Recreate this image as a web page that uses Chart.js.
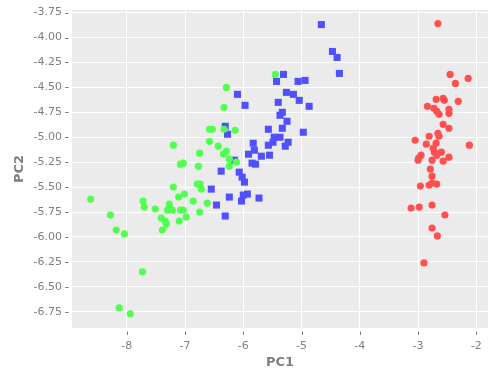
<!DOCTYPE html>
<html>
<head>
<meta charset="utf-8">
<script src="https://cdn.jsdelivr.net/npm/chart.js@4/dist/chart.umd.min.js"></script>
<style>
  html, body { margin: 0; padding: 0; background: #fff; }
  #wrap { width: 500px; height: 378px; }
</style>
</head>
<body>
<div id="wrap"><canvas id="pca"></canvas></div>
<script>
// axis ticks
const xTicks = [-8, -7, -6, -5, -4, -3, -2];
const yTicks = [-3.75, -4, -4.25, -4.5, -4.75, -5, -5.25, -5.5, -5.75, -6, -6.25, -6.5, -6.75];

// red group (right cluster)
const redPC1 = [-2.66, -2.45, -2.14, -2.36, -2.69, -2.57, -2.55, -2.31, -2.84, -2.73,
  -2.68, -2.64, -2.47, -2.47, -2.57, -2.47, -2.66, -2.81, -2.64, -3.05,
  -2.12, -2.86, -2.69, -2.74, -2.72, -2.60, -2.95, -2.99, -3.00, -2.47,
  -2.68, -2.76, -2.57, -2.79, -2.76, -2.96, -2.81, -2.76, -2.68, -3.12,
  -2.98, -2.76, -2.54, -2.76, -2.67, -2.90];
const redPC2 = [-3.86, -4.37, -4.41, -4.46, -4.62, -4.61, -4.63, -4.64, -4.69, -4.71,
  -4.74, -4.77, -4.72, -4.76, -4.87, -4.91, -4.96, -4.99, -4.99, -5.03,
  -5.08, -5.07, -5.06, -5.11, -5.15, -5.15, -5.18, -5.21, -5.23, -5.20,
  -5.18, -5.23, -5.24, -5.32, -5.39, -5.49, -5.48, -5.46, -5.47, -5.71,
  -5.70, -5.68, -5.78, -5.91, -5.99, -6.26];

// green group (left cluster)
const greenPC1 = [-5.45, -6.29, -6.33, -6.58, -6.53, -6.33, -6.14, -6.58, -6.43, -6.29,
  -6.34, -6.24, -6.12, -6.24, -6.62, -7.20, -6.75, -7.08, -7.03, -6.77,
  -7.20, -6.79, -6.74, -6.72, -7.01, -7.11, -8.62, -7.72, -7.70, -7.51,
  -6.86, -7.27, -7.27, -7.30, -7.22, -7.08, -7.03, -6.75, -8.28, -7.41,
  -7.34, -7.32, -6.98, -7.10, -8.18, -8.04, -7.39, -7.73, -8.13, -7.94];
const greenPC2 = [-4.37, -4.50, -4.70, -4.92, -4.92, -4.92, -4.93, -5.04, -5.09, -5.14,
  -5.17, -5.22, -5.25, -5.29, -5.66, -5.08, -5.16, -5.27, -5.26, -5.29,
  -5.50, -5.47, -5.47, -5.52, -5.57, -5.60, -5.62, -5.64, -5.70, -5.72,
  -5.64, -5.67, -5.70, -5.73, -5.73, -5.73, -5.73, -5.75, -5.78, -5.81,
  -5.84, -5.87, -5.80, -5.84, -5.93, -5.97, -5.93, -6.35, -6.71, -6.77];

// blue group (middle cluster)
const bluePC1 = [-4.66, -4.47, -4.39, -4.35, -5.31, -5.43, -5.06, -4.94, -5.26, -5.14,
  -5.04, -4.87, -5.40, -6.10, -5.97, -5.33, -5.37, -5.25, -6.31, -6.27,
  -5.57, -5.33, -4.97, -5.47, -5.37, -5.49, -5.23, -5.28, -5.57, -5.83,
  -5.81, -5.91, -5.69, -5.55, -6.15, -5.85, -5.79, -6.38, -6.07, -6.02,
  -5.98, -6.55, -6.24, -6.00, -5.93, -6.03, -5.73, -6.46, -6.31];
const bluePC2 = [-3.87, -4.14, -4.20, -4.36, -4.37, -4.44, -4.44, -4.43, -4.55, -4.57,
  -4.63, -4.69, -4.65, -4.57, -4.68, -4.75, -4.78, -4.84, -4.89, -4.97,
  -4.92, -4.91, -4.95, -5.00, -5.00, -5.05, -5.05, -5.09, -5.08, -5.06,
  -5.13, -5.17, -5.19, -5.18, -5.23, -5.26, -5.27, -5.34, -5.35, -5.40,
  -5.45, -5.52, -5.60, -5.58, -5.57, -5.64, -5.61, -5.68, -5.79];

const toPoints = (xs, ys) => xs.map((x, i) => ({ x: x, y: ys[i] }));

const AXIS_GREY = '#7f7f7f';
const tickFont = { family: 'DejaVu Sans', size: 11 };
const titleFont = { family: 'DejaVu Sans', size: 13, weight: 'bold' };

// grey ggplot-like panel behind the points
const panelBg = {
  id: 'panelBg',
  beforeDraw(chart) {
    const { ctx, chartArea: a } = chart;
    ctx.save();
    ctx.fillStyle = '#ebebeb';
    ctx.fillRect(a.left, a.top, a.right - a.left, a.bottom - a.top);
    ctx.restore();
  },
};

// small tick marks set off from the panel, like plotly does
const tickMarks = {
  id: 'tickMarks',
  afterDraw(chart) {
    const { ctx, chartArea: a, scales } = chart;
    ctx.save();
    ctx.strokeStyle = AXIS_GREY;
    ctx.lineWidth = 1;
    ctx.beginPath();
    xTicks.forEach(v => {
      const px = Math.round(scales.x.getPixelForValue(v)) + 0.5;
      ctx.moveTo(px, a.bottom + 3.5);
      ctx.lineTo(px, a.bottom + 7);
    });
    yTicks.forEach(v => {
      const py = Math.round(scales.y.getPixelForValue(v)) + 0.5;
      ctx.moveTo(a.left - 7, py);
      ctx.lineTo(a.left - 3.5, py);
    });
    ctx.stroke();
    ctx.restore();
  },
};

const ctx = document.getElementById('pca').getContext('2d');

new Chart(ctx, {
  type: 'scatter',
  data: {
    datasets: [
      {
        label: 'red',
        data: toPoints(redPC1, redPC2),
        pointStyle: 'circle',
        pointRadius: 3.6,
        backgroundColor: '#ff5050',
        borderWidth: 0,
      },
      {
        label: 'green',
        data: toPoints(greenPC1, greenPC2),
        pointStyle: 'circle',
        pointRadius: 3.6,
        backgroundColor: '#50ff50',
        borderWidth: 0,
      },
      {
        label: 'blue',
        data: toPoints(bluePC1, bluePC2),
        pointStyle: 'rect',
        pointRadius: 5,
        backgroundColor: '#5050ff',
        borderWidth: 0,
      },
    ],
  },
  options: {
    responsive: true,
    maintainAspectRatio: false,
    animation: false,
    layout: { padding: { top: 10, right: 12, left: 0, bottom: 0 } },
    plugins: {
      legend: { display: false },
      tooltip: { enabled: false },
    },
    scales: {
      x: {
        type: 'linear',
        min: -8.94,
        max: -1.8,
        afterBuildTicks: scale => { scale.ticks = xTicks.map(v => ({ value: v })); },
        afterFit: scale => {
          scale.height = 50;
          scale.paddingLeft = 0;
          scale.paddingRight = 0;
        },
        grid: { color: '#ffffff', lineWidth: 1, drawTicks: false },
        border: { display: false },
        ticks: { color: AXIS_GREY, font: tickFont, padding: 12, maxRotation: 0 },
        title: { display: true, text: 'PC1', color: AXIS_GREY, font: titleFont, padding: { top: 0, bottom: 8 } },
      },
      y: {
        type: 'linear',
        min: -6.913,
        max: -3.724,
        afterBuildTicks: scale => { scale.ticks = yTicks.map(v => ({ value: v })); },
        afterFit: scale => {
          scale.width = 72;
          scale.paddingTop = 0; // keep label overflow from pushing the panel down
          scale.paddingBottom = 0;
        },
        grid: { color: '#ffffff', lineWidth: 1, drawTicks: false },
        border: { display: false },
        ticks: {
          color: AXIS_GREY,
          font: tickFont,
          padding: 10,
          callback: value => Number(value).toFixed(2),
        },
        title: { display: true, text: 'PC2', color: AXIS_GREY, font: titleFont, padding: { top: 12, bottom: 0 } },
      },
    },
  },
  plugins: [panelBg, tickMarks],
});
</script>
</body>
</html>
